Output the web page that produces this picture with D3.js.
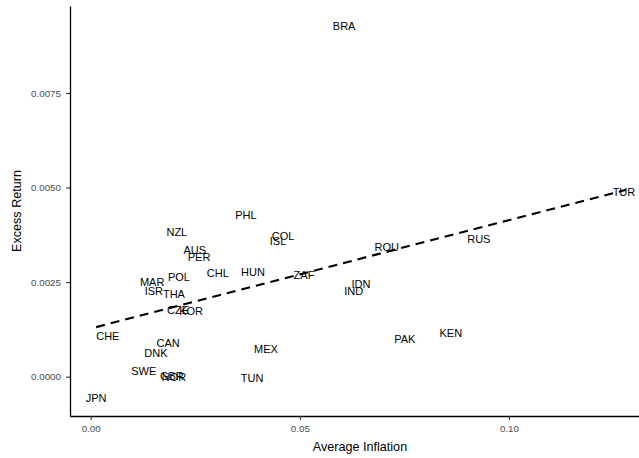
<!DOCTYPE html>
<html>
<head>
<meta charset="utf-8">
<title>Excess Return vs Average Inflation</title>
<style>
  body { margin: 0; background: #fff; }
  text { font-family: "Liberation Sans", Arial, sans-serif; }
</style>
</head>
<body>
<svg></svg>
<script src="https://d3js.org/d3.v7.min.js"></script>
<script>
// country codes and their values
var countries = ["BRA","TUR","PHL","NZL","COL","ISL","AUS","PER","ROU","RUS",
                 "HUN","CHL","ZAF","POL","MAR","ISR","THA","IDN","IND","CZE",
                 "KOR","CHE","CAN","DNK","MEX","PAK","KEN","SWE","NOR","GBR",
                 "TUN","JPN"];
var inflation = [0.0606,0.1275,0.0371,0.0206,0.0460,0.0448,0.0249,0.0259,0.0708,0.0928,
                 0.0388,0.0304,0.0510,0.0211,0.0147,0.0151,0.0199,0.0646,0.0629,0.0209,
                 0.0240,0.0041,0.0185,0.0156,0.0419,0.0751,0.0861,0.0127,0.0199,0.0194,
                 0.0386,0.0013];
var excessReturn = [0.00927,0.00489,0.00426,0.00381,0.00371,0.00358,0.00334,0.00316,0.00342,0.00363,
                    0.00276,0.00273,0.00268,0.00263,0.00250,0.00226,0.00218,0.00244,0.00226,0.00175,
                    0.00173,0.00107,0.00089,0.00062,0.00073,0.00099,0.00115,0.00015,0.00000,0.00002,
                    -0.00003,-0.00056];

// fitted line end points
var trendX = [0.0013, 0.1280];
var trendY = [0.00131, 0.00494];

var xTicks = [0, 0.05, 0.10];
var yTicks = [0, 0.0025, 0.0050, 0.0075];

var width = 639, height = 458;
var margin = {top: 6, right: 0, bottom: 42, left: 70};

var svg = d3.select("svg")
    .attr("width", width)
    .attr("height", height);

var x = d3.scaleLinear()
    .domain([-0.00495, 0.1311])
    .range([margin.left, width - margin.right]);

var y = d3.scaleLinear()
    .domain([-0.00104, 0.0098])
    .range([height - margin.bottom, margin.top]);

// trend line
svg.append("line")
    .attr("x1", x(trendX[0]))
    .attr("y1", y(trendY[0]))
    .attr("x2", x(trendX[1]))
    .attr("y2", y(trendY[1]))
    .attr("stroke", "black")
    .attr("stroke-width", 2.1)
    .attr("stroke-dasharray", "9,6");

// country labels
svg.append("g").selectAll("text")
    .data(countries)
    .enter()
    .append("text")
    .attr("x", function(d, i) { return x(inflation[i]); })
    .attr("y", function(d, i) { return y(excessReturn[i]); })
    .attr("dy", "0.35em")
    .attr("text-anchor", "middle")
    .style("font-size", "11px")
    .style("fill", "black")
    .text(function(d) { return d; });

// axes
var xAxis = svg.append("g")
    .attr("transform", "translate(0," + (height - margin.bottom) + ")")
    .call(d3.axisBottom(x).tickValues(xTicks).tickFormat(d3.format(".2f"))
        .tickSizeInner(4).tickSizeOuter(0).tickPadding(5));

var yAxis = svg.append("g")
    .attr("transform", "translate(" + margin.left + ",0)")
    .call(d3.axisLeft(y).tickValues(yTicks).tickFormat(d3.format(".4f"))
        .tickSizeInner(4).tickSizeOuter(0).tickPadding(5));

[xAxis, yAxis].forEach(function(a) {
    a.select(".domain").attr("stroke", "black").attr("stroke-width", 1.3);
    a.selectAll(".tick line").attr("stroke", "#333").attr("stroke-width", 1.1);
    a.selectAll(".tick text")
        .style("font-size", "9.8px")
        .style("fill", "#4d4d4d")
        .style("font-family", "'Liberation Sans', Arial, sans-serif");
});

// axis titles
svg.append("text")
    .attr("x", 360)
    .attr("y", 451)
    .attr("text-anchor", "middle")
    .style("font-size", "12.6px")
    .text("Average Inflation");

svg.append("text")
    .attr("transform", "translate(21," + 211 + ") rotate(-90)")
    .attr("text-anchor", "middle")
    .style("font-size", "12.6px")
    .text("Excess Return");
</script>
</body>
</html>
